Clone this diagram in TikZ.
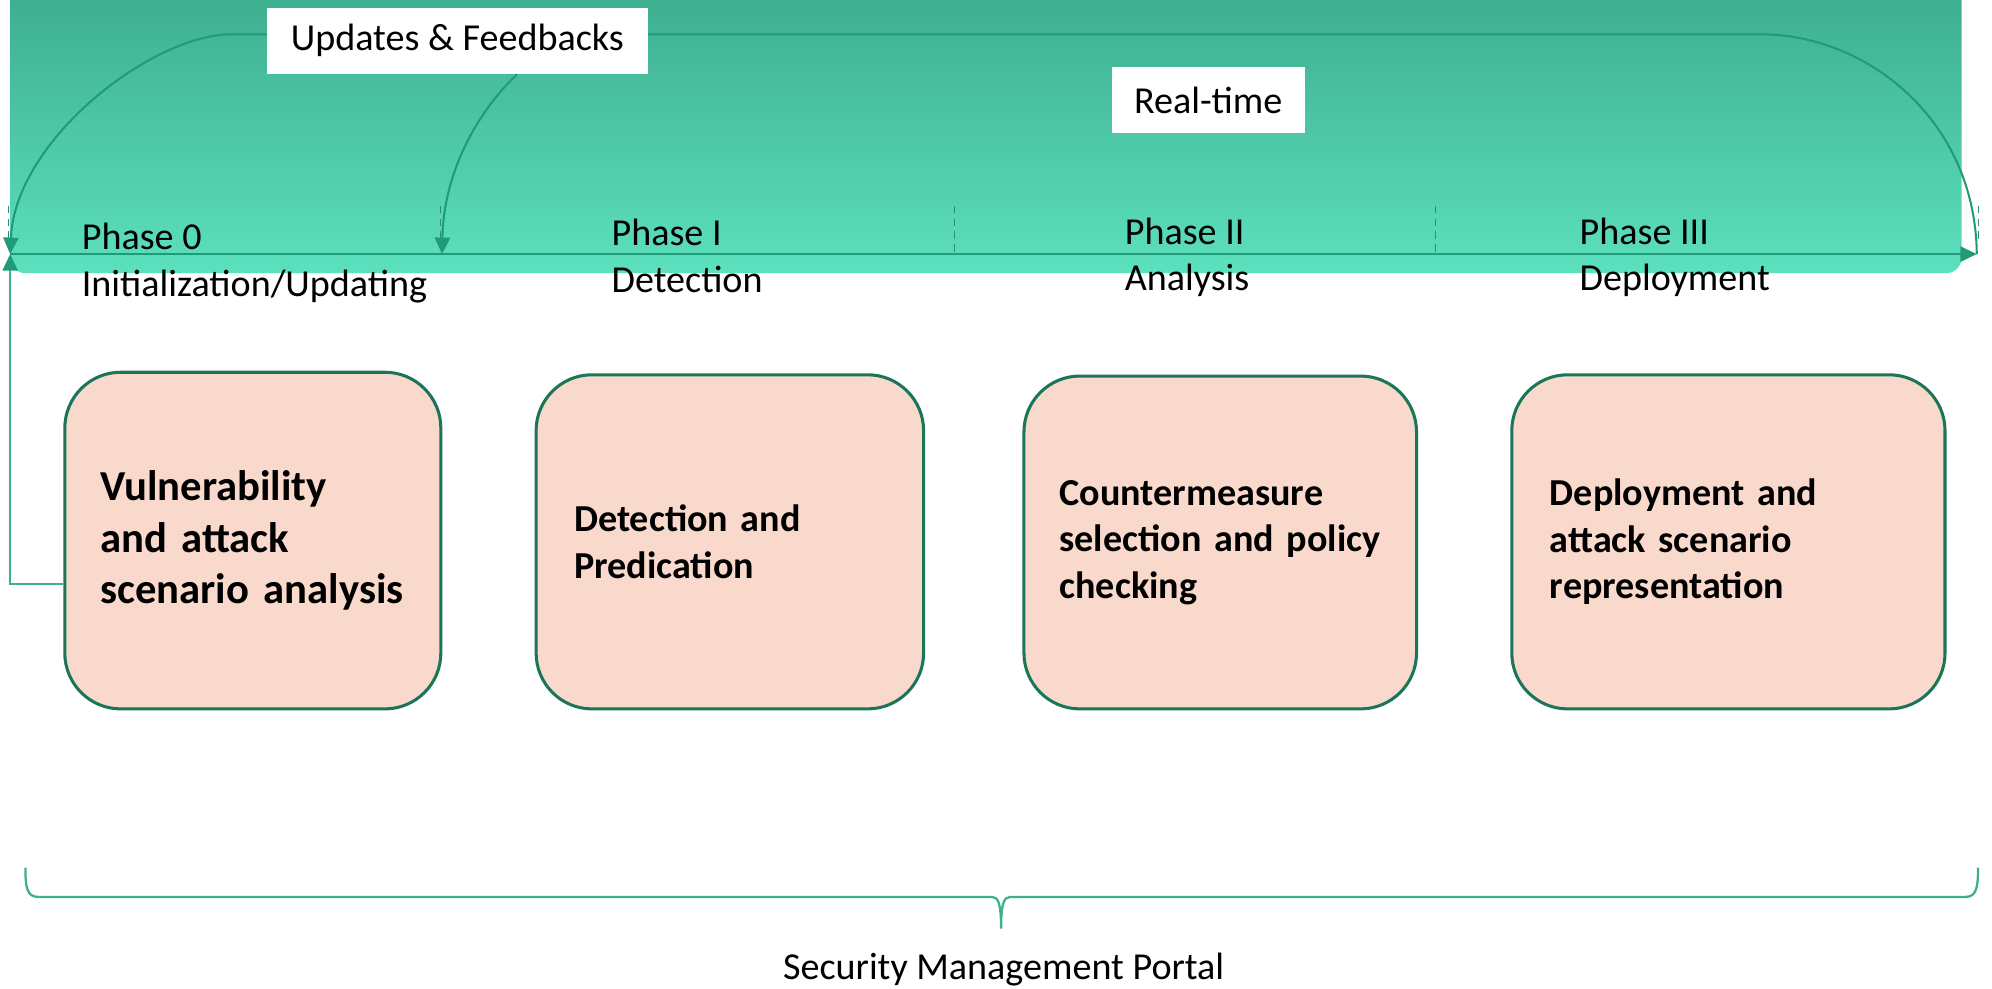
\documentclass[tikz,border=0pt]{standalone}
\usepackage{fontspec}
\setmainfont{Carlito}
\usetikzlibrary{arrows.meta}
\definecolor{bandtop}{HTML}{3CAB8C}
\definecolor{bandbot}{HTML}{5CE0BD}
\definecolor{arrowc}{HTML}{1F9C77}
\definecolor{boxfill}{HTML}{F8D9CC}
\definecolor{boxdraw}{HTML}{1B7557}
\definecolor{bracec}{HTML}{3DB08E}
\definecolor{tickc}{HTML}{2E8E72}
\begin{document}
\begin{tikzpicture}[x=0.5pt,y=-0.5pt,
  arr/.style={draw=arrowc, line width=0.8pt, -{Triangle[width=6pt,length=6.5pt,color=arrowc]}},
  lbl/.style={fill=white, inner sep=0pt, font=\fontsize{15}{18}\selectfont},
  phase/.style={align=left, inner sep=0pt, anchor=base west, font=\fontsize{15}{18.25}\selectfont},
  stage/.style={draw=boxdraw, line width=1.2pt, fill=boxfill, rounded corners=22pt, align=left, inner ysep=0pt, font=\bfseries\fontsize{15}{18.25}\selectfont},
  tickmark/.style={draw=tickc, line width=0.4pt, dash pattern=on 3pt off 2pt},
  brace/.style={draw=bracec, line width=0.9pt}]

\useasboundingbox (0,0) rectangle (1568,778);
\begin{scope}
\clip (0,0) rectangle (1568,778);
\shade[top color=bandtop, bottom color=bandbot, rounded corners=6pt] (8,-20) rectangle (1544,215);
\end{scope}

\coordinate (p0) at (8,200);
\coordinate (p1) at (348,200);
\coordinate (pend) at (1556,200);
\coordinate (tl) at (182,27);
\coordinate (tr) at (1386,27);

% dashed ticks
\draw[tickmark] (7,162) -- (7,190);
\draw[tickmark] (347,162) -- (347,190);
\draw[tickmark] (751,162) -- (751,198);
\draw[tickmark] (1130,162) -- (1130,198);
\draw[tickmark] (1557,162) -- (1557,192);

% axis
\draw[arr, line width=1pt] (p0) -- (pend);

% top loop (updates & feedbacks)
\draw[arr] (pend) .. controls (1555,95) and (1470,27) .. (tr) -- (tl) .. controls (120,27) and (12,110) .. (p0);

\node[lbl, minimum width=150pt, minimum height=26pt] (upd) at (360,32) {Updates \& Feedbacks};
\node[lbl, minimum width=76pt, minimum height=26pt] (rt) at (951,79) {Real-time};

\draw[arr] ([xshift=23.5pt]upd.south) .. controls (372,92) and (349,140) .. (p1);

% phase labels (anchored at the baseline of the second line)
\node[phase] (ph0) at (64,233) {Phase 0\\Initialization/Updating};
\node[phase] (ph1) at (481,230) {Phase I\\Detection};
\node[phase] (ph2) at (885,229) {Phase II\\Analysis};
\node[phase] (ph3) at (1243,229) {Phase III\\Deployment};

% stage boxes
\node[stage, minimum height=132.5pt, text width=120pt, inner xsep=14pt, font=\bfseries\fontsize{16.8}{20.3}\selectfont] (b1) at (199,425.5) {Vulnerability\\and attack\\scenario analysis};
\node[stage, minimum height=131.5pt, text width=122.5pt, inner xsep=15pt] (b2) at (574.5,426.5) {Detection and\\Predication};
\node[stage, minimum height=131pt, text width=126.5pt, inner xsep=14pt] (b3) at (960.5,427) {Countermeasure\\selection and policy\\checking};
\node[stage, minimum height=131.5pt, text width=140.5pt, inner xsep=15pt] (b4) at (1360.5,426.5) {Deployment and\\attack scenario\\representation};

% feedback from phase 0 box
\draw[draw=bracec, line width=0.6pt, -{Triangle[width=6pt,length=6.5pt,color=arrowc]}] ([yshift=-17pt]b1.west) -| (p0);

% brace
\draw[brace] (20,683) .. controls (20,698) and (21,706) .. (30,706) -- (781,706) .. controls (786,706) and (788,712) .. (788,731) .. controls (788,712) and (790,706) .. (795,706) -- (1547,706) .. controls (1556,706) and (1557,698) .. (1557,683);
\node[inner sep=0pt, font=\fontsize{15}{18}\selectfont] (smp) at (790,763) {Security Management Portal};
\end{tikzpicture}
\end{document}
